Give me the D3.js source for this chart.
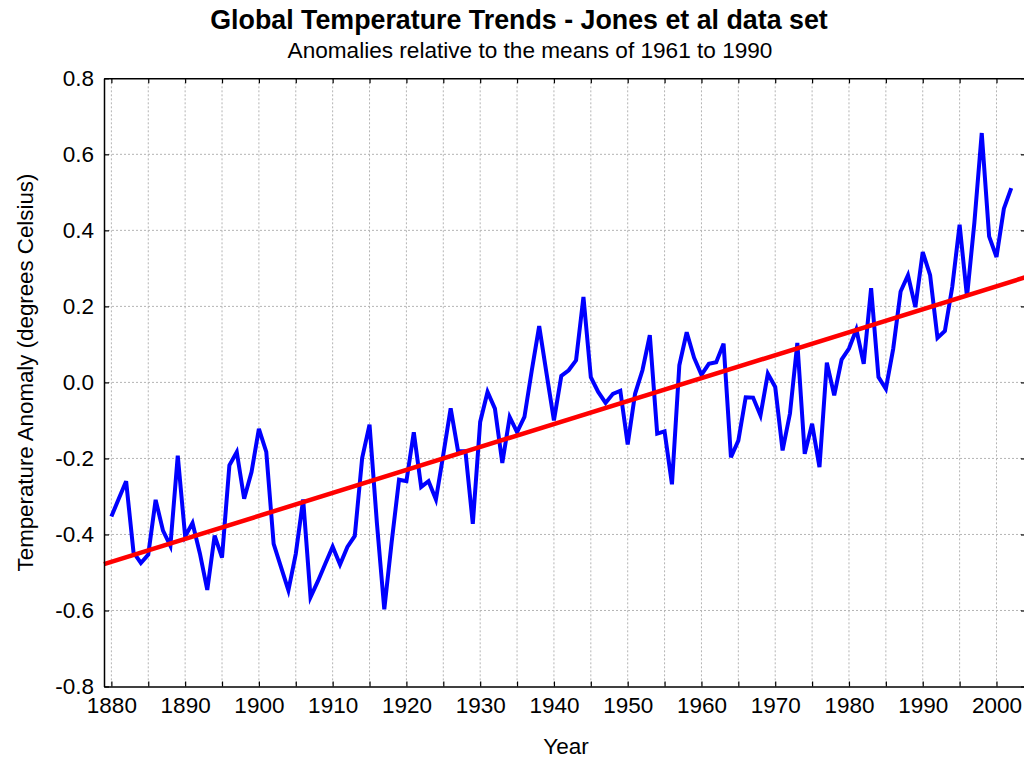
<!DOCTYPE html>
<html>
<head>
<meta charset="utf-8">
<title>Global Temperature Trends</title>
<script src="https://d3js.org/d3.v7.min.js"></script>
<style>
  body { margin: 0; background: #fff; }
  svg { display: block; font-family: "Liberation Sans", Arial, sans-serif; }
</style>
</head>
<body>
<div id="chart"></div>
<script>
// years of the series
let years = [
  1880, 1881, 1882, 1883, 1884, 1885, 1886, 1887, 1888, 1889,
  1890, 1891, 1892, 1893, 1894, 1895, 1896, 1897, 1898, 1899,
  1900, 1901, 1902, 1903, 1904, 1905, 1906, 1907, 1908, 1909,
  1910, 1911, 1912, 1913, 1914, 1915, 1916, 1917, 1918, 1919,
  1920, 1921, 1922, 1923, 1924, 1925, 1926, 1927, 1928, 1929,
  1930, 1931, 1932, 1933, 1934, 1935, 1936, 1937, 1938, 1939,
  1940, 1941, 1942, 1943, 1944, 1945, 1946, 1947, 1948, 1949,
  1950, 1951, 1952, 1953, 1954, 1955, 1956, 1957, 1958, 1959,
  1960, 1961, 1962, 1963, 1964, 1965, 1966, 1967, 1968, 1969,
  1970, 1971, 1972, 1973, 1974, 1975, 1976, 1977, 1978, 1979,
  1980, 1981, 1982, 1983, 1984, 1985, 1986, 1987, 1988, 1989,
  1990, 1991, 1992, 1993, 1994, 1995, 1996, 1997, 1998, 1999,
  2000, 2001, 2002
]

// temperature anomaly (deg C)
let anomaly = [
  -0.353, -0.306, -0.260, -0.447, -0.475, -0.453, -0.309, -0.390, -0.430, -0.193,
  -0.405, -0.370, -0.450, -0.546, -0.403, -0.461, -0.218, -0.183, -0.306, -0.236,
  -0.122, -0.183, -0.425, -0.486, -0.547, -0.451, -0.308, -0.565, -0.523, -0.477,
  -0.432, -0.479, -0.433, -0.404, -0.199, -0.111, -0.370, -0.597, -0.420, -0.256,
  -0.260, -0.131, -0.275, -0.260, -0.308, -0.190, -0.068, -0.181, -0.181, -0.372,
  -0.104, -0.025, -0.069, -0.212, -0.091, -0.131, -0.091, 0.032, 0.148, 0.023,
  -0.100, 0.017, 0.032, 0.058, 0.225, 0.014, -0.025, -0.054, -0.030, -0.022,
  -0.163, -0.030, 0.032, 0.124, -0.135, -0.129, -0.268, 0.045, 0.132, 0.065,
  0.020, 0.049, 0.053, 0.102, -0.197, -0.153, -0.039, -0.040, -0.087, 0.023,
  -0.012, -0.179, -0.082, 0.104, -0.188, -0.109, -0.223, 0.052, -0.034, 0.060,
  0.089, 0.139, 0.049, 0.248, 0.014, -0.017, 0.089, 0.239, 0.282, 0.198,
  0.343, 0.282, 0.117, 0.135, 0.251, 0.415, 0.225, 0.420, 0.656, 0.384,
  0.330, 0.457, 0.511
]

// linear trend, end points
let trendYears = [1879, 2004]
let trendValues = [-0.478, 0.277]

// ticks
let xLabelTicks = [1880, 1890, 1900, 1910, 1920, 1930, 1940, 1950, 1960, 1970, 1980, 1990, 2000]
let xMinorTicks = [1880, 1885, 1890, 1895, 1900, 1905, 1910, 1915, 1920, 1925, 1930, 1935, 1940,
                   1945, 1950, 1955, 1960, 1965, 1970, 1975, 1980, 1985, 1990, 1995, 2000]
let yTicks = [-0.8, -0.6, -0.4, -0.2, 0.0, 0.2, 0.4, 0.6, 0.8]

let W = 1024, H = 758
let margin = {top: 78.3, right: -2, bottom: 71.5, left: 104}
let w = W - margin.left - margin.right
let h = H - margin.top - margin.bottom

let svg = d3.select("#chart")
    .append("svg")
        .attr("width", W)
        .attr("height", H)
        .style("overflow", "hidden")

let g = svg.append("g")
        .attr("transform", "translate(" + margin.left + "," + margin.top + ")")

let xScale = d3.scaleLinear().domain([1879, 2004]).range([0, w])
let yScale = d3.scaleLinear().domain([-0.8, 0.8]).range([h, 0])

// grid
g.append("g")
    .selectAll("line")
    .data(xMinorTicks)
    .enter()
    .append("line")
    .attr("x1", d => xScale(d)).attr("x2", d => xScale(d))
    .attr("y1", 0).attr("y2", h)
    .attr("stroke", "#b4b4b4")
    .attr("stroke-width", 1)
    .attr("stroke-dasharray", "2,2")

g.append("g")
    .selectAll("line")
    .data(yTicks.slice(1, -1))
    .enter()
    .append("line")
    .attr("x1", 0).attr("x2", w)
    .attr("y1", d => yScale(d)).attr("y2", d => yScale(d))
    .attr("stroke", "#b4b4b4")
    .attr("stroke-width", 1)
    .attr("stroke-dasharray", "2,2")

// data line
let line = d3.line()
    .x((d, i) => xScale(years[i]))
    .y(d => yScale(d))

g.append("path")
    .datum(anomaly)
    .attr("d", line)
    .attr("fill", "none")
    .attr("stroke", "#0000ff")
    .attr("stroke-width", 4)

let trendLine = d3.line()
    .x((d, i) => xScale(trendYears[i]))
    .y(d => yScale(d))

g.append("path")
    .datum(trendValues)
    .attr("d", trendLine)
    .attr("fill", "none")
    .attr("stroke", "#ff0000")
    .attr("stroke-width", 4.5)

// axes (ticks pointing inward)
let fmtY = d => d3.format(".1f")(d).replace("\u2212", "-")

let xAxis = d3.axisBottom(xScale).tickValues(xMinorTicks).tickSizeInner(-5).tickSizeOuter(0)
    .tickFormat(d => xLabelTicks.indexOf(d) >= 0 ? d : "").tickPadding(11)
let xTop = d3.axisTop(xScale).tickValues(xMinorTicks).tickSizeInner(-5).tickSizeOuter(0).tickFormat("")
let yAxis = d3.axisLeft(yScale).tickValues(yTicks).tickSizeInner(-5).tickSizeOuter(0)
    .tickFormat(fmtY).tickPadding(10)
let yRight = d3.axisRight(yScale).tickValues(yTicks).tickSizeInner(-5).tickSizeOuter(0).tickFormat("")

function styleAxis(sel) {
    sel.select(".domain").attr("stroke", "#000").attr("stroke-width", 1.5)
    sel.selectAll(".tick line").attr("stroke", "#000").attr("stroke-width", 1.2)
    sel.selectAll(".tick text")
        .attr("fill", "#000")
        .attr("font-size", "22.5px")
        .attr("font-family", "'Liberation Sans', Arial, sans-serif")
}

g.append("g").attr("transform", "translate(0," + h + ")").call(xAxis).call(styleAxis)
g.append("g").call(xTop).call(styleAxis)
g.append("g").call(yAxis).call(styleAxis)
g.append("g").attr("transform", "translate(" + w + ",0)").call(yRight).call(styleAxis)

// titles
svg.append("text")
    .attr("x", 519).attr("y", 29)
    .attr("text-anchor", "middle")
    .attr("font-size", "26.8px")
    .attr("font-weight", "bold")
    .text("Global Temperature Trends - Jones et al data set")

svg.append("text")
    .attr("x", 530).attr("y", 57.5)
    .attr("text-anchor", "middle")
    .attr("font-size", "22.6px")
    .text("Anomalies relative to the means of 1961 to 1990")

svg.append("text")
    .attr("x", 566).attr("y", 754)
    .attr("text-anchor", "middle")
    .attr("font-size", "22.5px")
    .text("Year")

svg.append("text")
    .attr("transform", "translate(33,372.5) rotate(-90)")
    .attr("text-anchor", "middle")
    .attr("font-size", "22.3px")
    .text("Temperature Anomaly (degrees Celsius)")
</script>
</body>
</html>
